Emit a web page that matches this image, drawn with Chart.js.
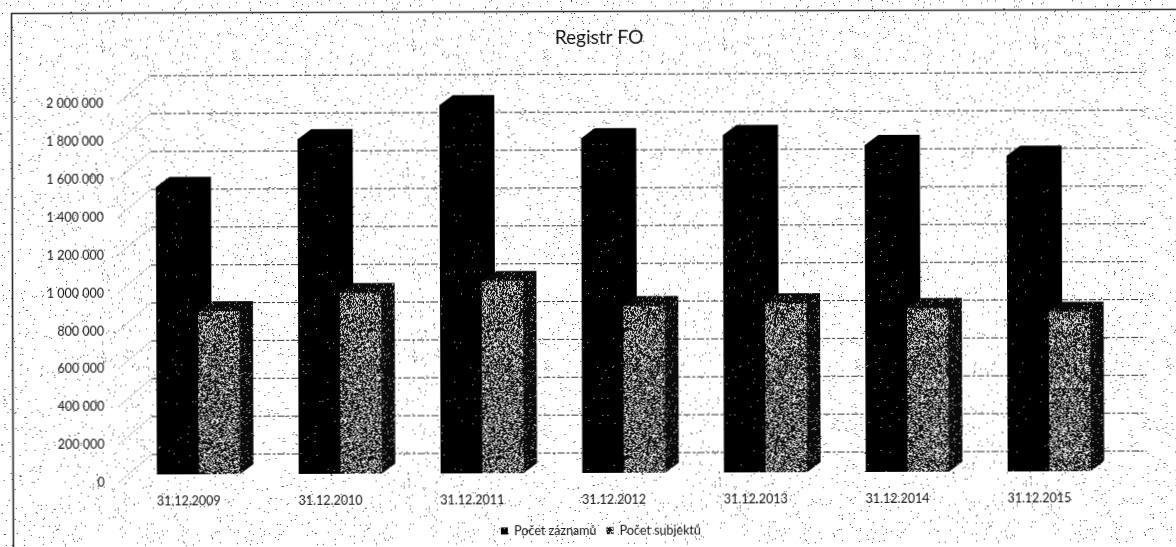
<!DOCTYPE html>
<html lang="cs">
<head>
<meta charset="utf-8">
<style>
html,body{margin:0;padding:0;background:#fff;overflow:hidden}
#wrap{width:1176px;height:547px;transform-origin:0 0;transform:rotate(-0.2deg)}
canvas{display:block}
</style>
<script src="https://cdn.jsdelivr.net/npm/chart.js@4/dist/chart.umd.min.js"></script>
</head>
<body>
<div id="wrap"><canvas id="c" width="1176" height="547"></canvas></div>
<script>
const chartTitle = "Registr FO";
const categories = ["31.12.2009","31.12.2010","31.12.2011","31.12.2012","31.12.2013","31.12.2014","31.12.2015"];
const seriesNames = ["Počet záznamů","Počet subjektů"];
const zaznamy = [1519000,1768000,1945000,1768000,1783000,1727000,1667000];
const subjekty = [861000,954000,1015000,881000,893000,865000,842000];
const yTicks = [0,200000,400000,600000,800000,1000000,1200000,1400000,1600000,1800000,2000000];

// scanned-halftone textures (deterministic generator)
function tile(size, density, ink, paper, seed){
  const cv=document.createElement('canvas'); cv.width=cv.height=size;
  const g=cv.getContext('2d');
  g.fillStyle=paper; g.fillRect(0,0,size,size);
  g.fillStyle=ink;
  let s=seed>>>0;
  for(let y=0;y<size;y++)for(let x=0;x<size;x++){
    s=(Math.imul(s,1664525)+1013904223)>>>0;
    if((s>>>8)/16777216<density) g.fillRect(x,y,1,1);
  }
  return g.createPattern(cv,'repeat');
}
const ctx=document.getElementById('c').getContext('2d');
const paperTex=tile(311,0.015,'#444','#fff',11);
const blackTex=tile(127,0.004,'#bbb','#000',23);
const grayTex=tile(128,0.62,'#111','#e4e4e4',37);
const shadeTex=tile(128,0.06,'#aaa','#0a0a0a',51);

const DEPTH_X=13.5, DEPTH_Y=10;          // bar depth
const BACK_DY=20, FRONT_DY=8;            // wall offsets from the bar plane
const FRONT_X=117, BACK_X=150, END_X=1145;

const scene={
  id:'scene',
  beforeDraw(chart){
    const c=chart.ctx;
    c.save();
    c.fillStyle=paperTex; c.fillRect(0,0,chart.width,chart.height);
    c.strokeStyle='#2a2a2a'; c.lineWidth=1.6;
    c.beginPath(); c.moveTo(11.5,chart.height+5); c.lineTo(11.5,13.5); c.lineTo(chart.width+5,13.5); c.stroke();
    c.restore();
  },
  beforeDatasetsDraw(chart){
    const c=chart.ctx, y=chart.scales.y;
    c.save();
    yTicks.forEach(v=>{
      const p=y.getPixelForValue(v);
      c.strokeStyle='#777'; c.lineWidth=1; c.setLineDash([2,2]);
      c.beginPath(); c.moveTo(FRONT_X,p+FRONT_DY); c.lineTo(BACK_X,p-BACK_DY); c.stroke();
      c.strokeStyle='#333'; c.setLineDash([7,2,3,2]);
      c.beginPath(); c.moveTo(BACK_X,p-BACK_DY); c.lineTo(END_X,p-BACK_DY); c.stroke();
    });
    c.setLineDash([]);
    [0,1].forEach(d=>{
      const tex=d===0?'#000':shadeTex;
      chart.getDatasetMeta(d).data.forEach(b=>{
        const l=b.x-b.width/2, r=b.x+b.width/2, t=b.y, base=b.base;
        c.fillStyle=tex;
        c.beginPath();
        c.moveTo(l,t); c.lineTo(l+DEPTH_X,t-DEPTH_Y); c.lineTo(r+DEPTH_X,t-DEPTH_Y);
        c.lineTo(r+DEPTH_X,base-DEPTH_Y); c.lineTo(r,base); c.lineTo(l,base); c.closePath();
        c.fill();
      });
    });
    c.restore();
  }
};

new Chart(ctx,{
  type:'bar',
  data:{labels:categories,datasets:[
    {label:seriesNames[0],data:zaznamy,backgroundColor:blackTex,borderWidth:0},
    {label:seriesNames[1],data:subjekty,backgroundColor:grayTex,borderWidth:0,yAxisID:'y'}
  ]},
  plugins:[scene],
  options:{
    responsive:false,animation:false,
    layout:{padding:{left:22,right:0,top:0,bottom:-2}},
    datasets:{bar:{categoryPercentage:0.585,barPercentage:1}},
    plugins:{
      tooltip:{enabled:false},
      title:{display:true,text:chartTitle,color:'#111',
        font:{family:'Lato',size:19,weight:'normal'},padding:{top:28,bottom:45.5}},
      legend:{position:'bottom',
        labels:{color:'#111',font:{family:'Lato',size:12.5},boxWidth:7,boxHeight:7,padding:10}}
    },
    scales:{
      x:{grid:{display:false},border:{display:false},
        afterFit(s){s.height=41.5;},
        ticks:{color:'#111',font:{family:'Lato',size:12.5},padding:11.5,maxRotation:0,labelOffset:-10}},
      y:{min:0,max:2000000,grid:{display:false},border:{display:false},
        afterFit(s){s.width=104;},
        afterBuildTicks(s){s.ticks=yTicks.map(v=>({value:v}));},
        ticks:{color:'#111',font:{family:'Lato',size:12.5},padding:15,labelOffset:8,
          callback:v=>String(v).replace(/\B(?=(\d{3})+$)/g,' ')}},
      rightMargin:{position:'right',grid:{display:false},border:{display:false},
        ticks:{display:false},afterFit(s){s.width=57.5;}}
    }
  }
});
</script>
</body>
</html>
